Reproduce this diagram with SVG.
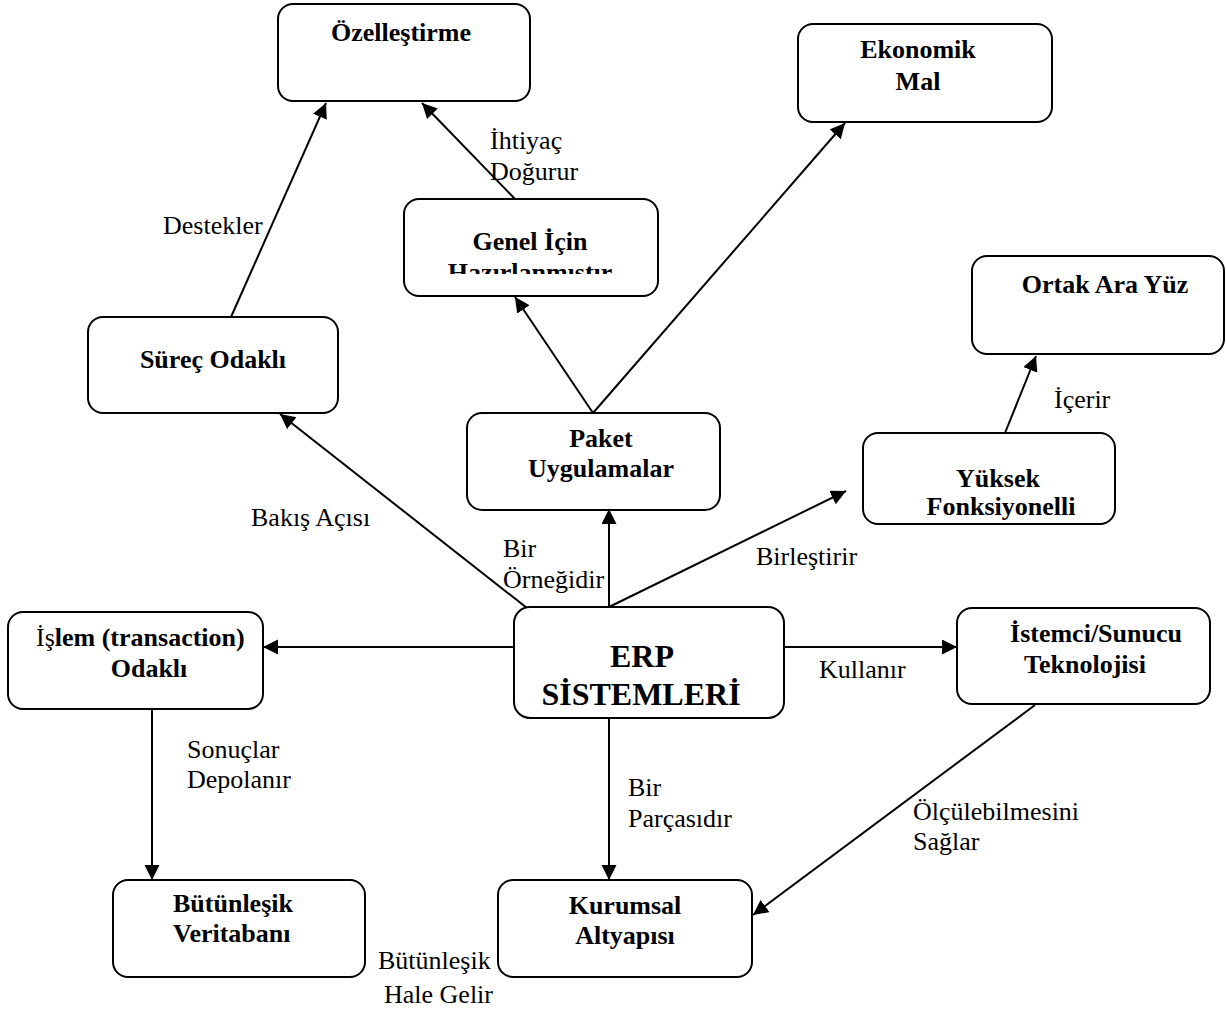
<svg xmlns="http://www.w3.org/2000/svg" width="1226" height="1012" viewBox="0 0 1226 1012">
  <style>
    .box { fill: #ffffff; stroke: #000000; stroke-width: 2; }
    .node { font-family: "Liberation Serif", "Times New Roman", serif; font-size: 26px; font-weight: bold; fill: #000000; }
    .big { font-size: 32px; }
    .lbl { font-family: "Liberation Serif", "Times New Roman", serif; font-size: 26px; fill: #000000; }
    .reg { font-weight: normal; }
    .conn line { stroke: #000000; stroke-width: 2; fill: none; }
  </style>
  <defs>
    <marker id="arrow" markerUnits="userSpaceOnUse" markerWidth="16" markerHeight="16" refX="15" refY="7.5" orient="auto">
      <path d="M0,0 L15,7.5 L0,15 Z" fill="#000000"/>
    </marker>
    <clipPath id="genelClip">
      <rect x="404" y="199" width="254" height="75"/>
    </clipPath>
  </defs>
  <rect width="1226" height="1012" fill="#ffffff"/>

  <!-- connectors -->
  <g id="connectors" class="conn">
    <line x1="231" y1="317" x2="326" y2="103" marker-end="url(#arrow)"/>
    <line x1="515" y1="199" x2="422" y2="103" marker-end="url(#arrow)"/>
    <line x1="593" y1="413" x2="515" y2="297" marker-end="url(#arrow)"/>
    <line x1="593" y1="413" x2="845" y2="123" marker-end="url(#arrow)"/>
    <line x1="609" y1="607" x2="609" y2="509" marker-end="url(#arrow)"/>
    <line x1="527" y1="608" x2="280" y2="414" marker-end="url(#arrow)"/>
    <line x1="609" y1="607" x2="846" y2="491" marker-end="url(#arrow)"/>
    <line x1="1005" y1="433" x2="1036" y2="356" marker-end="url(#arrow)"/>
    <line x1="514" y1="647" x2="263" y2="647" marker-end="url(#arrow)"/>
    <line x1="784" y1="647" x2="957" y2="647" marker-end="url(#arrow)"/>
    <line x1="152" y1="709" x2="152" y2="880" marker-end="url(#arrow)"/>
    <line x1="609" y1="718" x2="609" y2="880" marker-end="url(#arrow)"/>
    <line x1="1035" y1="705" x2="753" y2="915" marker-end="url(#arrow)"/>
  </g>

  <!-- connector labels -->
  <g id="labels" class="lbl">
    <text x="163" y="234">Destekler</text>
    <text x="490" y="149">İhtiyaç</text>
    <text x="490" y="180">Doğurur</text>
    <text x="251" y="526">Bakış Açısı</text>
    <text x="503" y="557">Bir</text>
    <text x="503" y="588">Örneğidir</text>
    <text x="756" y="565">Birleştirir</text>
    <text x="1054" y="408">İçerir</text>
    <text x="819" y="678">Kullanır</text>
    <text x="187" y="758">Sonuçlar</text>
    <text x="187" y="788">Depolanır</text>
    <text x="628" y="796">Bir</text>
    <text x="628" y="827">Parçasıdır</text>
    <text x="913" y="820">Ölçülebilmesini</text>
    <text x="913" y="850">Sağlar</text>
    <text x="378" y="969">Bütünleşik</text>
    <text x="384" y="1003">Hale Gelir</text>
  </g>

  <!-- nodes -->
  <g id="ozellestirme">
    <rect class="box" x="278" y="4" width="252" height="97" rx="15"/>
    <text class="node" x="401" y="41" text-anchor="middle">Özelleştirme</text>
  </g>
  <g id="ekonomik-mal">
    <rect class="box" x="798" y="24" width="254" height="98" rx="15"/>
    <text class="node" x="918" y="58" text-anchor="middle">Ekonomik</text>
    <text class="node" x="918" y="90" text-anchor="middle">Mal</text>
  </g>
  <g id="genel-icin">
    <rect class="box" x="404" y="199" width="254" height="97" rx="15"/>
    <g clip-path="url(#genelClip)">
      <text class="node" x="530" y="250" text-anchor="middle">Genel İçin</text>
      <text class="node" x="530" y="281" text-anchor="middle">Hazırlanmıştır</text>
    </g>
  </g>
  <g id="surec-odakli">
    <rect class="box" x="88" y="317" width="250" height="96" rx="15"/>
    <text class="node" x="213" y="368" text-anchor="middle">Süreç Odaklı</text>
  </g>
  <g id="ortak-ara-yuz">
    <rect class="box" x="972" y="256" width="252" height="98" rx="15"/>
    <text class="node" x="1105" y="293" text-anchor="middle">Ortak Ara Yüz</text>
  </g>
  <g id="paket-uygulamalar">
    <rect class="box" x="467" y="413" width="253" height="97" rx="15"/>
    <text class="node" x="601" y="447" text-anchor="middle">Paket</text>
    <text class="node" x="601" y="477" text-anchor="middle">Uygulamalar</text>
  </g>
  <g id="yuksek-fonksiyonelli">
    <rect class="box" x="863" y="433" width="252" height="91" rx="15"/>
    <text class="node" x="998" y="487" text-anchor="middle">Yüksek</text>
    <text class="node" x="1001" y="515" text-anchor="middle">Fonksiyonelli</text>
  </g>
  <g id="islem-odakli">
    <rect class="box" x="8" y="612" width="255" height="97" rx="15"/>
    <text class="node" x="36" y="646"><tspan class="reg">İş</tspan>lem (transaction)</text>
    <text class="node" x="149" y="677" text-anchor="middle">Odaklı</text>
  </g>
  <g id="erp-sistemleri">
    <rect class="box" x="514" y="607" width="270" height="111" rx="16"/>
    <text class="node big" x="642" y="667" text-anchor="middle">ERP</text>
    <text class="node big" x="641" y="705" text-anchor="middle">SİSTEMLERİ</text>
  </g>
  <g id="istemci-sunucu">
    <rect class="box" x="957" y="608" width="253" height="96" rx="15"/>
    <text class="node" x="1096" y="642" text-anchor="middle">İstemci/Sunucu</text>
    <text class="node" x="1085" y="673" text-anchor="middle">Teknolojisi</text>
  </g>
  <g id="butunlesik-veritabani">
    <rect class="box" x="113" y="880" width="252" height="97" rx="15"/>
    <text class="node" x="173" y="912">Bütünleşik</text>
    <text class="node" x="173" y="942">Veritabanı</text>
  </g>
  <g id="kurumsal-altyapisi">
    <rect class="box" x="498" y="880" width="254" height="97" rx="15"/>
    <text class="node" x="625" y="914" text-anchor="middle">Kurumsal</text>
    <text class="node" x="625" y="944" text-anchor="middle">Altyapısı</text>
  </g>
</svg>
